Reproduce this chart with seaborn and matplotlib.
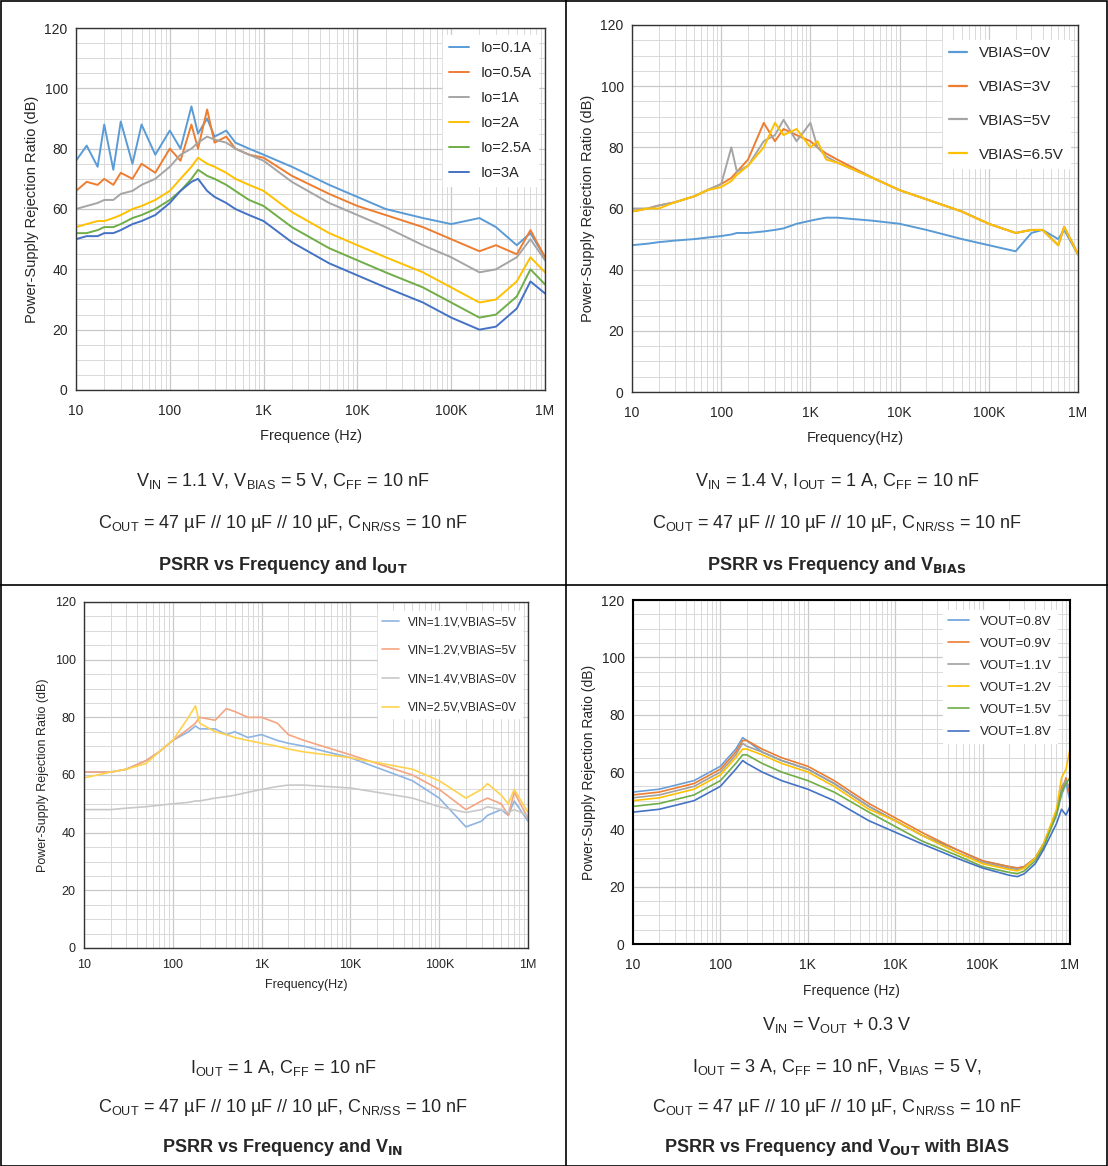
import matplotlib
matplotlib.use('Agg')
import matplotlib.pyplot as plt
import seaborn as sns
import numpy as np
import pandas as pd
from matplotlib.ticker import FixedLocator, NullFormatter, MultipleLocator
from matplotlib.lines import Line2D
from matplotlib.patches import Rectangle

sns.set_theme(style='white')
plt.rcParams['font.family'] = ['Liberation Sans', 'DejaVu Sans']

# ---------- chart 1: PSRR vs Iout ----------
f1 = [10, 13, 17, 20, 25, 30, 40, 50, 70, 100, 130, 170, 200, 250, 300, 400, 500, 700,
      1e3, 2e3, 5e3, 1e4, 2e4, 5e4, 1e5, 2e5, 3e5, 5e5, 7e5, 1e6]
io_labels = ['Io=0.1A', 'Io=0.5A', 'Io=1A', 'Io=2A', 'Io=2.5A', 'Io=3A']
io_01 = [76, 81, 74, 88, 73, 89, 75, 88, 78, 86, 80, 94, 85, 90, 84, 86, 82, 80, 78, 74, 68, 64, 60, 57, 55, 57, 54, 48, 52, 44]
io_05 = [66, 69, 68, 70, 68, 72, 70, 75, 72, 80, 76, 88, 80, 93, 82, 84, 80, 78, 77, 71, 65, 61, 58, 54, 50, 46, 48, 45, 53, 44]
io_1 = [60, 61, 62, 63, 63, 65, 66, 68, 70, 74, 78, 80, 82, 84, 83, 82, 80, 78, 76, 69, 62, 58, 54, 48, 44, 39, 40, 44, 50, 43]
io_2 = [54, 55, 56, 56, 57, 58, 60, 61, 63, 66, 70, 74, 77, 75, 74, 72, 70, 68, 66, 59, 52, 48, 44, 39, 34, 29, 30, 36, 44, 39]
io_25 = [52, 52, 53, 54, 54, 55, 57, 58, 60, 63, 66, 70, 73, 71, 70, 68, 66, 63, 61, 54, 47, 43, 39, 34, 29, 24, 25, 31, 40, 35]
io_3 = [50, 51, 51, 52, 52, 53, 55, 56, 58, 62, 66, 69, 70, 66, 64, 62, 60, 58, 56, 49, 42, 38, 34, 29, 24, 20, 21, 27, 36, 32]

# ---------- chart 2: PSRR vs Vbias ----------
f2 = [10, 15, 20, 30, 50, 70, 100, 130, 150, 200, 300, 400, 500, 700, 1e3, 1.2e3, 1.5e3, 2e3,
      5e3, 1e4, 2e4, 5e4, 1e5, 2e5, 3e5, 4e5, 6e5, 7e5, 1e6]
vb_labels = ['VBIAS=0V', 'VBIAS=3V', 'VBIAS=5V', 'VBIAS=6.5V']
vb_0 = [48, 48.5, 49, 49.5, 50, 50.5, 51, 51.5, 52, 52, 52.5, 53, 53.5, 55, 56, 56.5, 57, 57, 56, 55, 53, 50, 48, 46, 52, 53, 50, 53, 45]
vb_3 = [59, 60, 61, 62, 64, 66, 68, 70, 72, 76, 88, 82, 86, 84, 82, 80, 78, 76, 70, 66, 63, 59, 55, 52, 53, 53, 48, 54, 45]
vb_5 = [60, 60, 61, 62, 64, 66, 68, 80, 72, 74, 82, 84, 89, 82, 88, 80, 77, 75, 70, 66, 63, 59, 55, 52, 53, 53, 48, 54, 45]
vb_65 = [59, 60, 60, 62, 64, 66, 67, 69, 71, 74, 80, 88, 84, 86, 80, 82, 76, 75, 70, 66, 63, 59, 55, 52, 53, 53, 48, 54, 45]

# ---------- chart 3: PSRR vs Vin ----------
f3 = [10, 20, 30, 50, 70, 100, 150, 180, 200, 300, 400, 500, 700, 1e3, 1.5e3, 2e3, 3e3, 1e4,
      5e4, 1e5, 2e5, 3e5, 3.5e5, 5e5, 6e5, 7e5, 1e6]
vin_labels = ['VIN=1.1V,VBIAS=5V', 'VIN=1.2V,VBIAS=5V', 'VIN=1.4V,VBIAS=0V', 'VIN=2.5V,VBIAS=0V']
vin_11 = [61, 61, 62, 65, 68, 72, 75, 77, 76, 76, 74, 75, 73, 74, 72, 71, 70, 66, 58, 52, 42, 44, 46, 48, 46, 51, 44]
vin_12 = [61, 61, 62, 65, 68, 72, 76, 78, 80, 79, 83, 82, 80, 80, 78, 74, 72, 67, 60, 55, 48, 51, 52, 50, 46, 54, 45]
vin_14 = [48, 48, 48.5, 49, 49.5, 50, 50.5, 51, 51, 52, 52.5, 53, 54, 55, 56, 56.5, 56.5, 55.5, 52, 49, 47, 48, 49, 48, 47, 48, 46]
vin_25 = [59, 61, 62, 64, 68, 72, 80, 84, 78, 75, 74, 73, 72, 71, 70, 69, 68, 66, 62, 58, 52, 55, 57, 53, 50, 55, 47]

# ---------- chart 4: PSRR vs Vout ----------
f4 = [10, 20, 50, 100, 150, 180, 200, 300, 500, 1e3, 2e3, 5e3, 1e4, 2e4, 5e4, 1e5,
      2e5, 2.5e5, 3e5, 4e5, 5e5, 7e5, 8e5, 9e5, 1e6]
vo_labels = ['VOUT=0.8V', 'VOUT=0.9V', 'VOUT=1.1V', 'VOUT=1.2V', 'VOUT=1.5V', 'VOUT=1.8V']
vo_08 = [53, 54, 57, 62, 68, 72, 71, 67, 64, 61, 56, 48, 43, 38, 33, 29, 27, 26.5, 27, 30, 35, 45, 52, 56, 50]
vo_09 = [52, 53, 56, 61, 67, 71, 71, 68, 65, 62, 57, 49, 44, 39, 33, 29, 27, 26.5, 27, 30, 35, 46, 53, 58, 52]
vo_11 = [51, 52, 55, 60, 66, 70, 69, 67, 64, 61, 56, 48, 43, 38, 32, 28.5, 26.5, 26, 26.5, 30, 35, 46, 55, 57, 54]
vo_12 = [50, 51, 54, 59, 65, 68, 68, 66, 63, 60, 55, 47, 43, 38, 32, 28, 26, 25.5, 26.5, 30, 35, 47, 58, 61, 68]
vo_15 = [48, 49, 52, 57, 63, 66, 66, 63, 60, 57, 53, 46, 41, 36, 31, 27, 25, 24.5, 25.5, 29, 34, 45, 53, 56, 58]
vo_18 = [46, 47, 50, 55, 61, 64, 63, 60, 57, 54, 50, 43, 39, 35, 30, 26.5, 24, 23.5, 24.5, 28, 33, 42, 47, 45, 48]

c_lblue = '#5B9BD5'
c_orange = '#ED7D31'
c_gray = '#A5A5A5'
c_gold = '#FFC000'
c_green = '#70AD47'
c_dblue = '#4472C4'


def to_long(freqs, labels, series):
    rows = []
    for lab, vals in zip(labels, series):
        for fr, v in zip(freqs, vals):
            rows.append({'f': fr, 'psrr': v, 'series': lab})
    return pd.DataFrame(rows)


def style_axes(ax, xlabel, ylabel, fs_lab=10.5, fs_tick=10, pad=10, lpad=8):
    ax.set_xscale('log')
    ax.set_xlim(10, 1e6)
    ax.set_ylim(0, 120)
    minors = [m * 10 ** e for e in range(1, 6) for m in range(2, 10)]
    ax.xaxis.set_minor_locator(FixedLocator(minors))
    ax.xaxis.set_minor_formatter(NullFormatter())
    ax.set_xticks([10, 100, 1e3, 1e4, 1e5, 1e6])
    ax.set_xticklabels(['10', '100', '1K', '10K', '100K', '1M'], fontsize=fs_tick)
    ax.yaxis.set_major_locator(MultipleLocator(20))
    ax.yaxis.set_minor_locator(MultipleLocator(5))
    ax.tick_params(axis='y', labelsize=fs_tick)
    ax.grid(which='major', color='#C8C8C8', lw=0.9)
    ax.grid(which='minor', color='#D9D9D9', lw=0.7)
    ax.set_xlabel(xlabel, fontsize=fs_lab, labelpad=lpad)
    ax.set_ylabel(ylabel, fontsize=fs_lab, labelpad=4)
    ax.tick_params(length=0, pad=6)
    ax.tick_params(axis='x', pad=pad)
    for s in ax.spines.values():
        s.set_color('#333333')
        s.set_linewidth(1.0)


def draw(ax, freqs, labels, series, colors, lw=1.4):
    df = to_long(freqs, labels, series)
    sns.lineplot(data=df, x='f', y='psrr', hue='series', hue_order=labels,
                 palette=colors, lw=lw, ax=ax, legend=False)


W, H = 1108, 1166
fig = plt.figure(figsize=(W / 100, H / 100), dpi=100)


def add_ax(x0, y0, x1, y1):
    return fig.add_axes([x0 / W, 1 - y1 / H, (x1 - x0) / W, (y1 - y0) / H])


ylab = 'Power-Supply Rejection Ratio (dB)'

ax1 = add_ax(76, 28, 545, 390)
draw(ax1, f1, io_labels, [io_01, io_05, io_1, io_2, io_25, io_3],
     [c_lblue, c_orange, c_gray, c_gold, c_green, c_dblue])
style_axes(ax1, 'Frequence (Hz)', ylab)
h1 = [Line2D([], [], color=c, lw=1.4) for c in [c_lblue, c_orange, c_gray, c_gold, c_green, c_dblue]]
ax1.legend(h1, io_labels, loc='upper right', fontsize=10.5, frameon=True, fancybox=False,
           edgecolor='white', framealpha=1, handlelength=1.4, labelspacing=0.75,
           bbox_to_anchor=(1.0, 1.0))

ax2 = add_ax(632, 25, 1078, 392)
draw(ax2, f2, vb_labels, [vb_0, vb_3, vb_5, vb_65], [c_lblue, c_orange, c_gray, c_gold])
style_axes(ax2, 'Frequency(Hz)', ylab)
h2 = [Line2D([], [], color=c, lw=1.6) for c in [c_lblue, c_orange, c_gray, c_gold]]
ax2.legend(h2, vb_labels, loc='upper right', fontsize=11, frameon=True, fancybox=False,
           edgecolor='white', framealpha=1, handlelength=1.2, labelspacing=1.3,
           bbox_to_anchor=(1.0, 0.98))

ax3 = add_ax(84, 602, 528, 948)
draw(ax3, f3, vin_labels, [vin_11, vin_12, vin_14, vin_25], ['#8DB4E2', '#F4A582', '#C8C8C8', '#FFD24D'], lw=1.2)
style_axes(ax3, 'Frequency(Hz)', ylab, fs_lab=9, fs_tick=9, pad=8, lpad=6)
h3 = [Line2D([], [], color=c, lw=1.2) for c in ['#8DB4E2', '#F4A582', '#C8C8C8', '#FFD24D']]
ax3.legend(h3, vin_labels, loc='upper right', fontsize=8.5, frameon=True, fancybox=False,
           edgecolor='white', framealpha=1, handlelength=1.4, labelspacing=1.4,
           bbox_to_anchor=(1.0, 0.99))

ax4 = add_ax(633, 600, 1070, 944)
vo_cols = ['#6A9FD8', c_orange, '#A0A0A0', c_gold, c_green, c_dblue]
draw(ax4, f4, vo_labels, [vo_08, vo_09, vo_11, vo_12, vo_15, vo_18], vo_cols, lw=1.2)
style_axes(ax4, 'Frequence (Hz)', ylab, fs_lab=10, fs_tick=10, pad=10, lpad=9)
for s in ax4.spines.values():
    s.set_color('black')
    s.set_linewidth(1.5)
h4 = [Line2D([], [], color=c, lw=1.2) for c in vo_cols]
ax4.legend(h4, vo_labels, loc='upper right', fontsize=9.5, frameon=True, fancybox=False,
           edgecolor='white', framealpha=1, handlelength=1.6, labelspacing=0.75,
           bbox_to_anchor=(0.985, 0.99))

# ---------- table borders ----------
fig.add_artist(Rectangle((0.5 / W, 0.5 / H), 1 - 1.5 / W, 1 - 1.5 / H, transform=fig.transFigure,
                         fill=False, ec='black', lw=1.2))
fig.add_artist(Line2D([566 / W, 566 / W], [0, 1], transform=fig.transFigure, color='black', lw=1.2))
fig.add_artist(Line2D([0, 1], [1 - 585 / H, 1 - 585 / H], transform=fig.transFigure, color='black', lw=1.2))


def caption(x, y, s, bold=False):
    fig.text(x / W, 1 - y / H, s, ha='center', va='center', fontsize=13,
             fontweight='bold' if bold else 'normal')


caption(283, 481, r'V$_{\mathregular{IN}}$ = 1.1 V, V$_{\mathregular{BIAS}}$ = 5 V, C$_{\mathregular{FF}}$ = 10 nF')
caption(283, 523, r'C$_{\mathregular{OUT}}$ = 47 µF // 10 µF // 10 µF, C$_{\mathregular{NR/SS}}$ = 10 nF')
caption(283, 565, r'PSRR vs Frequency and I$_{\mathbf{OUT}}$', bold=True)
caption(837, 481, r'V$_{\mathregular{IN}}$ = 1.4 V, I$_{\mathregular{OUT}}$ = 1 A, C$_{\mathregular{FF}}$ = 10 nF')
caption(837, 523, r'C$_{\mathregular{OUT}}$ = 47 µF // 10 µF // 10 µF, C$_{\mathregular{NR/SS}}$ = 10 nF')
caption(837, 565, r'PSRR vs Frequency and V$_{\mathbf{BIAS}}$', bold=True)
caption(283, 1068, r'I$_{\mathregular{OUT}}$ = 1 A, C$_{\mathregular{FF}}$ = 10 nF')
caption(283, 1108, r'C$_{\mathregular{OUT}}$ = 47 µF // 10 µF // 10 µF, C$_{\mathregular{NR/SS}}$ = 10 nF')
caption(283, 1148, r'PSRR vs Frequency and V$_{\mathbf{IN}}$', bold=True)
caption(837, 1025, r'V$_{\mathregular{IN}}$ = V$_{\mathregular{OUT}}$ + 0.3 V')
caption(837, 1067, r'I$_{\mathregular{OUT}}$ = 3 A, C$_{\mathregular{FF}}$ = 10 nF, V$_{\mathregular{BIAS}}$ = 5 V,')
caption(837, 1108, r'C$_{\mathregular{OUT}}$ = 47 µF // 10 µF // 10 µF, C$_{\mathregular{NR/SS}}$ = 10 nF')
caption(837, 1148, r'PSRR vs Frequency and V$_{\mathbf{OUT}}$ with BIAS', bold=True)

fig.savefig('out.png', dpi=100)
